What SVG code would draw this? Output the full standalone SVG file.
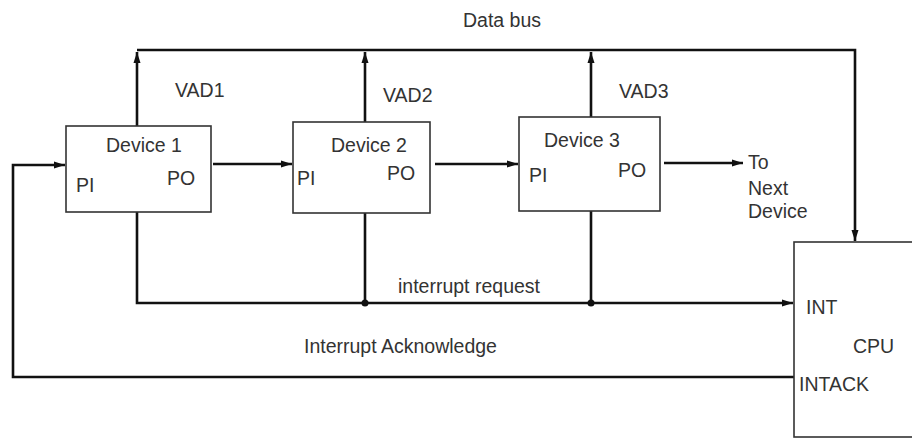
<svg xmlns="http://www.w3.org/2000/svg" width="912" height="439" viewBox="0 0 912 439">
<style>
.box{fill:#fff;stroke:#333;stroke-width:1.6}
.ln{fill:none;stroke:#111;stroke-width:2.6}
.t{font-family:"Liberation Sans",Arial,sans-serif;font-size:19.5px;fill:#333}
</style>
<defs>
<marker id="ah" markerUnits="userSpaceOnUse" markerWidth="12" markerHeight="8" refX="11" refY="4" orient="auto">
<path d="M0,0.5 L11,4 L0,7.5 z" fill="#111"/>
</marker>
</defs>
<rect width="912" height="439" fill="#fff"/>
<g id="connectors">
<polyline class="ln" points="137,50 855,50 855,241" marker-end="url(#ah)"/>
<line class="ln" x1="137" y1="126" x2="137" y2="52" marker-end="url(#ah)"/>
<line class="ln" x1="365" y1="122" x2="365" y2="52" marker-end="url(#ah)"/>
<line class="ln" x1="591" y1="117" x2="591" y2="52" marker-end="url(#ah)"/>
<line class="ln" x1="213" y1="164" x2="292" y2="164" marker-end="url(#ah)"/>
<line class="ln" x1="435" y1="164" x2="518" y2="164" marker-end="url(#ah)"/>
<line class="ln" x1="664" y1="163" x2="743" y2="163" marker-end="url(#ah)"/>
<polyline class="ln" points="137,212 137,303 793,303" marker-end="url(#ah)"/>
<line class="ln" x1="365" y1="213" x2="365" y2="303"/>
<line class="ln" x1="591" y1="211" x2="591" y2="303"/>
<circle cx="365" cy="303" r="3.5" fill="#111"/>
<circle cx="591" cy="303" r="3.5" fill="#111"/>
<polyline class="ln" points="794,377 13,377 13,165 65,165" marker-end="url(#ah)"/>
<text class="t" x="463" y="27">Data bus</text>
<text class="t" x="175" y="97">VAD1</text>
<text class="t" x="383" y="102">VAD2</text>
<text class="t" x="619" y="98">VAD3</text>
<text class="t" x="748" y="169">To</text>
<text class="t" x="748" y="195">Next</text>
<text class="t" x="748" y="218">Device</text>
<text class="t" x="398" y="293">interrupt request</text>
<text class="t" x="304" y="353">Interrupt Acknowledge</text>
</g>
<g id="device1">
<rect class="box" x="66" y="126" width="145" height="86"/>
<text class="t" x="106" y="152">Device 1</text>
<text class="t" x="76" y="192">PI</text>
<text class="t" x="167" y="185">PO</text>
</g>
<g id="device2">
<rect class="box" x="293" y="122" width="137" height="91"/>
<text class="t" x="331" y="152">Device 2</text>
<text class="t" x="297" y="185">PI</text>
<text class="t" x="387" y="180">PO</text>
</g>
<g id="device3">
<rect class="box" x="519" y="117" width="141" height="94"/>
<text class="t" x="544" y="147">Device 3</text>
<text class="t" x="529" y="182">PI</text>
<text class="t" x="618" y="177">PO</text>
</g>
<g id="cpu">
<rect class="box" x="794" y="242" width="130" height="195"/>
<text class="t" x="806" y="314">INT</text>
<text class="t" x="853" y="353">CPU</text>
<text class="t" x="799" y="391">INTACK</text>
</g>
</svg>
